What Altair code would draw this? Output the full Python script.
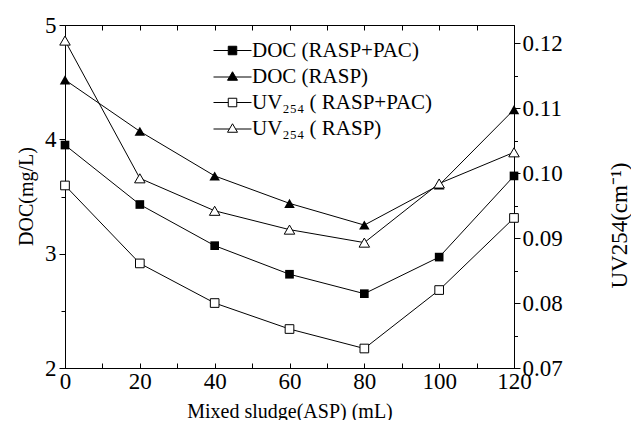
import altair as alt
import pandas as pd

# ---- data ----
x_vals = [0, 20, 40, 60, 80, 100, 120]
doc_rasp_pac = [3.95, 3.43, 3.07, 2.82, 2.65, 2.97, 3.68]
doc_rasp = [4.52, 4.07, 3.68, 3.44, 3.25, 3.60, 4.26]
uv_rasp_pac = [0.0981, 0.0861, 0.0800, 0.0760, 0.0730, 0.0820, 0.0931]
uv_rasp = [0.1204, 0.0992, 0.0942, 0.0913, 0.0893, 0.0984, 0.1032]

series_names = ["DOC (RASP+PAC)", "DOC (RASP)", "UV\u2082\u2085\u2084 ( RASP+PAC)", "UV\u2082\u2085\u2084 ( RASP)"]

x_major = [0, 20, 40, 60, 80, 100, 120]
x_all = [0, 10, 20, 30, 40, 50, 60, 70, 80, 90, 100, 110, 120]
left_major = [2, 3, 4, 5]
left_minor = [2.5, 3.5, 4.5]
right_major = [0.07, 0.08, 0.09, 0.10, 0.11, 0.12]
right_minor = [0.075, 0.085, 0.095, 0.105, 0.115]

x_title = "Mixed sludge(ASP) (mL)"
left_title = "DOC(mg/L)"
right_title = "UV254(cm\u207b\u00b9)"

FONT = "Liberation Serif"

doc_df = pd.DataFrame({
    "x": x_vals * 2,
    "value": doc_rasp_pac + doc_rasp,
    "series": [series_names[0]] * 7 + [series_names[1]] * 7,
})
uv_df = pd.DataFrame({
    "x": x_vals * 2,
    "value": uv_rasp_pac + uv_rasp,
    "series": [series_names[2]] * 7 + [series_names[3]] * 7,
})
legend_df = pd.DataFrame({"series": series_names})

xs = alt.Scale(domain=[0, 120], nice=False, zero=False)
ys_doc = alt.Scale(domain=[2, 5], nice=False, zero=False)
ys_uv = alt.Scale(domain=[0.07, 0.1228], nice=False, zero=False)

lab = dict(labelFont=FONT, labelFontSize=23, labelColor="black",
           titleFont=FONT, titleColor="black", titleFontWeight="normal",
           domainColor="black", tickColor="black", grid=False)

no_axis = None

doc_lines = alt.Chart(doc_df).mark_line(color="black", strokeWidth=1).encode(
    x=alt.X("x:Q", scale=xs, axis=alt.Axis(orient="bottom", values=x_major, ticks=False,
                                           labelPadding=2, labelFlush=False, title=x_title,
                                           titleFontSize=20, titleY=43,
                                           titleBaseline="middle", **lab)),
    y=alt.Y("value:Q", scale=ys_doc, axis=alt.Axis(orient="left", values=left_major, tickSize=6,
                                                  labelPadding=3, labelFlush=False, title=left_title,
                                                  titleFontSize=20, titleX=-39,
                                                  titleY=171, titleAngle=270, titleAlign="center",
                                                  titleBaseline="middle", **lab)),
    detail="series:N",
)

doc_sq = alt.Chart(doc_df).transform_filter(alt.datum.series == series_names[0]).mark_point(
    shape="square", filled=True, color="black", size=75, opacity=1
).encode(
    x=alt.X("x:Q", scale=xs, axis=alt.Axis(orient="bottom", offset=-5, values=x_all, tickSize=5,
                                           labels=False, domain=False, title=None, grid=False,
                                           tickColor="black")),
    y=alt.Y("value:Q", scale=ys_doc, axis=alt.Axis(orient="left", values=left_minor, tickSize=4,
                                                  labels=False, domain=False, title=None, grid=False,
                                                  tickColor="black")),
)

doc_tri = alt.Chart(doc_df).transform_filter(alt.datum.series == series_names[1]).mark_point(
    shape="triangle-up", filled=True, color="black", size=110, opacity=1
).encode(
    x=alt.X("x:Q", scale=xs, axis=no_axis),
    y=alt.Y("value:Q", scale=ys_doc, axis=no_axis),
)

uv_lines = alt.Chart(uv_df).mark_line(color="black", strokeWidth=1).encode(
    x=alt.X("x:Q", scale=xs, axis=alt.Axis(orient="top", offset=-5, values=x_all, tickSize=5,
                                           labels=False, domain=False, title=None, grid=False,
                                           tickColor="black")),
    y=alt.Y("value:Q", scale=ys_uv, axis=alt.Axis(orient="right", values=right_major, tickSize=6,
                                                 format=".2f", labelPadding=2, labelFlush=False,
                                                 title=right_title, titleFontSize=23,
                                                 titleX=105, titleY=200, titleAngle=270,
                                                 titleAlign="center", titleBaseline="middle", **lab)),
    detail="series:N",
)

uv_sq = alt.Chart(uv_df).transform_filter(alt.datum.series == series_names[2]).mark_point(
    shape="square", filled=False, stroke="black", fill="white", strokeWidth=1, size=75, opacity=1
).encode(
    x=alt.X("x:Q", scale=xs, axis=no_axis),
    y=alt.Y("value:Q", scale=ys_uv, axis=alt.Axis(orient="right", values=right_minor, tickSize=3.5,
                                                 labels=False, domain=False, title=None, grid=False,
                                                 tickColor="black")),
)

uv_tri = alt.Chart(uv_df).transform_filter(alt.datum.series == series_names[3]).mark_point(
    shape="triangle-up", filled=False, stroke="black", fill="white", strokeWidth=1, size=110, opacity=1
).encode(
    x=alt.X("x:Q", scale=xs, axis=no_axis),
    y=alt.Y("value:Q", scale=ys_uv, axis=no_axis),
)

sym_paths = [
    "M-3.8,0H-0.85M0.85,0H3.8M-0.85,-0.85H0.85V0.85H-0.85Z",
    "M-3.8,0.1H-0.62M0.62,0.1H3.8M0,-0.95L1,0.75H-1Z",
    "M-3.8,0H-0.85M0.85,0H3.8M-0.85,-0.85H0.85V0.85H-0.85Z",
    "M-3.8,0.1H-0.62M0.62,0.1H3.8M0,-0.95L1,0.75H-1Z",
]
sym_fill = ["black", "black", "white", "white"]
sym_stroke = ["black", "black", "black", "black"]

leg = alt.Legend(orient="none", legendX=157, legendY=15, title=None, symbolSize=100,
                 symbolStrokeColor="black", symbolStrokeWidth=1, symbolOpacity=1,
                 labelFont=FONT, labelFontSize=21, labelColor="black", labelOffset=9,
                 rowPadding=4, padding=0, labelLimit=400)

legend_layer = alt.Chart(legend_df).transform_filter("false").mark_point(
    filled=False, strokeWidth=1, opacity=1
).encode(
    shape=alt.Shape("series:N", scale=alt.Scale(domain=series_names, range=sym_paths), legend=leg),
    fill=alt.Fill("series:N", scale=alt.Scale(domain=series_names, range=sym_fill), legend=leg),
    stroke=alt.Stroke("series:N", scale=alt.Scale(domain=series_names, range=sym_stroke), legend=leg),
)

chart = alt.layer(
    doc_lines, uv_lines, doc_sq, doc_tri, uv_sq, uv_tri, legend_layer
).resolve_scale(
    y="independent"
).resolve_axis(
    x="independent", y="independent"
).properties(
    width=449, height=343,
    autosize=alt.AutoSizeParams(type="none"),
    padding={"left": 57, "top": 17, "right": 117, "bottom": 52},
).configure_view(
    stroke="black", strokeWidth=1
)

chart.save("out.html", embed_options={"renderer": "svg", "actions": False})
